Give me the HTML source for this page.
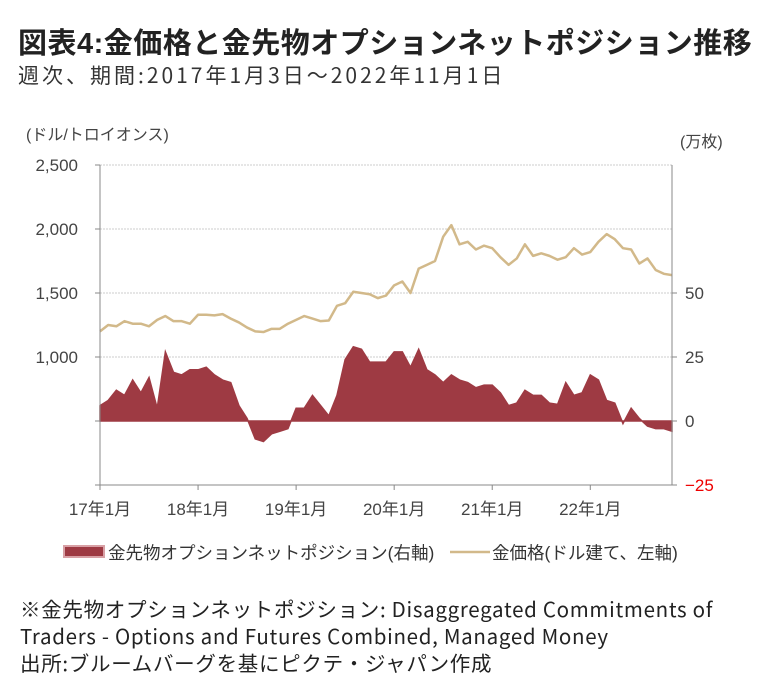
<!DOCTYPE html>
<html><head><meta charset="utf-8">
<style>
body{margin:0;background:#fff;width:781px;height:699px;overflow:hidden;font-family:"Liberation Sans","Noto Sans CJK JP",sans-serif;color:#222}
.t{position:absolute;white-space:nowrap}
</style></head><body>
<div class="t" style="left:18px;top:20px;font-size:29px;font-weight:bold;color:#222;letter-spacing:0.5px">図表4:金価格と金先物オプションネットポジション推移</div>
<div class="t" style="left:18px;top:60px;font-size:21px;color:#333;font-family:'Noto Sans CJK JP',sans-serif;letter-spacing:3px">週次、期間:2017年1月3日～2022年11月1日</div>
<svg id="c" width="781" height="699" style="position:absolute;left:0;top:0"></svg>
<div class="t" style="left:20px;top:595px;font-size:20.5px;line-height:27px;color:#222;font-family:'Noto Sans CJK JP',sans-serif;letter-spacing:0.7px">※金先物オプションネットポジション: Disaggregated Commitments of<br>Traders - Options and Futures Combined, Managed Money<br>出所:ブルームバーグを基にピクテ・ジャパン作成</div>
<script>
const xLabels=["17年1月","18年1月","19年1月","20年1月","21年1月","22年1月"];
const leftTicks=[0,500,1000,1500,2000,2500];
const leftTickLabels=["","","1,000","1,500","2,000","2,500"];
const rightTicks=[-25,0,25,50];
const gold=[1200,1250,1240,1280,1260,1260,1240,1290,1320,1280,1280,1260,
1330,1330,1325,1335,1300,1270,1230,1200,1195,1220,1220,1260,
1290,1320,1300,1280,1285,1400,1420,1510,1500,1490,1460,1480,
1560,1590,1500,1690,1720,1750,1940,2030,1880,1900,1840,1870,
1850,1780,1720,1770,1880,1790,1810,1790,1760,1780,1850,1800,
1820,1900,1960,1920,1850,1840,1730,1770,1680,1650,1640];
const net=[6,8,12,10,16,11,17,5,27,19,18,20,
20,21,18,16,15,6,1,-7,-8,-5,-4,-3,
5,5,10,6,2,10,24,29,28,23,23,23,
27,27,21,28,20,18,15,18,16,15,13,14,
14,11,6,7,12,10,10,7,6.5,15,10,11,
18,16,8,7,-1,5,1,-2,-3,-3,-4];
const NS="http://www.w3.org/2000/svg";
const svg=document.getElementById('c');
const X0=100,X1=672,Y0=485,Y1=165;
const x=i=>X0+(i*(X1-X0)/70);
const yL=v=>Y0-(v-0)*(Y0-Y1)/2500;
const yR=v=>421-v*64/25;
function el(t,a){const e=document.createElementNS(NS,t);for(const k in a)e.setAttribute(k,a[k]);svg.appendChild(e);return e;}
leftTicks.forEach(v=>{if(v>0&&v!==500){const g=el('line',{x1:X0,x2:X1,y1:yL(v),y2:yL(v),stroke:'#ccc','stroke-dasharray':'2,1'});}});
let d=`M${x(0)},${yR(0)}`;net.forEach((v,i)=>{d+=`L${x(i)},${yR(v)}`;});d+=`L${x(net.length-1)},${yR(0)}Z`;
const a=el('path',{d:d,fill:'#9e3a43',stroke:'#9e3a43','stroke-width':1.5});

el('line',{x1:X0,x2:X1,y1:421,y2:421,stroke:'#9e3a43','stroke-width':1});
const gp=el('polyline',{points:gold.map((v,i)=>x(i)+','+yL(v)).join(' '),fill:'none',stroke:'#d2b98a','stroke-width':2.5,'stroke-linejoin':'round'});

el('line',{x1:X0,x2:X0,y1:Y1,y2:Y0,stroke:'#888'});
el('line',{x1:X1,x2:X1,y1:Y1,y2:Y0,stroke:'#888'});
el('line',{x1:X0,x2:X1,y1:Y0,y2:Y0,stroke:'#888'});
leftTicks.forEach((v,i)=>{el('line',{x1:X0-5,x2:X0,y1:yL(v),y2:yL(v),stroke:'#888'});
 const t=el('text',{x:78,y:yL(v)+6,'text-anchor':'end','font-size':17,fill:'#444'});t.textContent=leftTickLabels[i];
 });
rightTicks.forEach(v=>{el('line',{x1:X1,x2:X1+5,y1:yR(v),y2:yR(v),stroke:'#888'});
 const t=el('text',{x:X1+13,y:yR(v)+6,'font-size':17,fill:v<0?'#e00':'#444'});t.textContent=v<0?'−25':String(v);
 });
xLabels.forEach((s,i)=>{const xx=x(i*12);el('line',{x1:xx,x2:xx,y1:Y0,y2:Y0+5,stroke:'#888'});
 const t=el('text',{x:xx,y:Y0+30,'text-anchor':'middle','font-size':17,fill:'#444'});t.textContent=s;
 });
let t=el('text',{x:26,y:140,'font-size':16,fill:'#444'});t.textContent='(ドル/トロイオンス)';
t=el('text',{x:680,y:147,'font-size':16,fill:'#444'});t.textContent='(万枚)';
let r=el('rect',{x:64,y:546,width:40,height:11,fill:'#9e3a43',stroke:'#d8a0a5','stroke-width':2});
t=el('text',{x:108,y:559,'font-size':17.5,fill:'#333'});t.textContent='金先物オプションネットポジション(右軸)';
let l=el('line',{x1:450,x2:490,y1:552,y2:552,stroke:'#d2b98a','stroke-width':2.5});
t=el('text',{x:492,y:559,'font-size':17.5,fill:'#333'});t.textContent='金価格(ドル建て、左軸)';
</script>
</body></html>
